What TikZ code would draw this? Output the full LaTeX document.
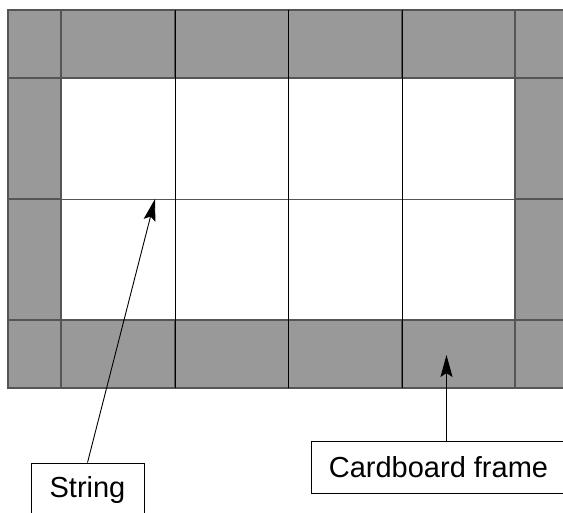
\documentclass[tikz,border=0pt]{standalone}
\usepackage{fontspec}
\setmainfont{Liberation Sans}
\usetikzlibrary{arrows.meta}
\definecolor{framegray}{HTML}{999999}
\definecolor{edgegray}{HTML}{555555}

\begin{document}
\begin{tikzpicture}[x=1pt,y=-1pt,
    framecell/.style={fill=framegray,draw=edgegray,line width=1.2pt},
    tagbox/.style={draw,fill=white,line width=0.8pt,inner sep=0pt,
      font=\fontsize{29}{34}\selectfont},
    pointarrow/.style={line width=0.9pt,-{Stealth[length=22pt,width=12pt,inset=4pt]}}]
  \useasboundingbox (0,0) rectangle (563,513);
  % top and bottom rows of the frame
  \foreach \xa/\xb in {8/61,61/175,175/288.5,288.5/402,402/515,515/568}{
    \filldraw[framecell] (\xa,10) rectangle (\xb,78);
    \filldraw[framecell] (\xa,320) rectangle (\xb,388);
  }
  % left and right sides
  \foreach \ya/\yb in {78/199,199/320}{
    \filldraw[framecell] (8,\ya) rectangle (61,\yb);
    \filldraw[framecell] (515,\ya) rectangle (568,\yb);
  }
  % strings
  \draw[edgegray,line width=0.8pt] (61,199) -- (515,199);
  \foreach \x in {175,288.5,402}
    \draw[line width=0.8pt] (\x,10) -- (\x,388);

  \node[tagbox,minimum width=113pt,minimum height=54pt] (string) at (87.5,490) {String};
  \node[tagbox,minimum width=255pt,minimum height=52pt] (cardboard) at (438.5,467) {Cardboard frame};
  \coordinate (knot) at (155,199);
  \coordinate (rim) at (446.5,355);
  \draw[pointarrow] (string.north) -- (knot);
  \draw[pointarrow] (cardboard.north -| rim) -- (rim);
\end{tikzpicture}
\end{document}
